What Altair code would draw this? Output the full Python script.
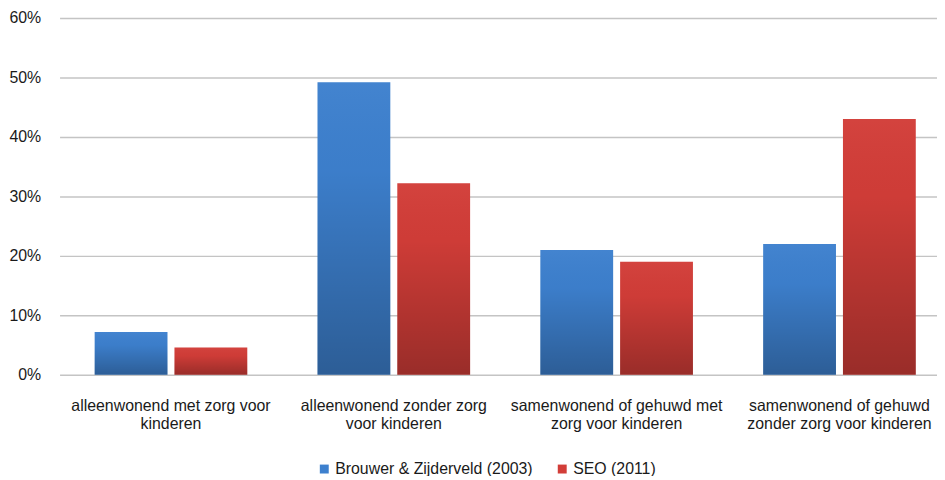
import altair as alt
import pandas as pd

categories = [
    "alleenwonend met zorg voor|kinderen",
    "alleenwonend zonder zorg|voor kinderen",
    "samenwonend of gehuwd met|zorg voor kinderen",
    "samenwonend of gehuwd|zonder zorg voor kinderen",
]
series = ["Brouwer & Zijderveld (2003)", "SEO (2011)"]
brouwer_2003 = [0.072, 0.492, 0.210, 0.220]
seo_2011 = [0.046, 0.322, 0.190, 0.430]
y_ticks = [0, 0.1, 0.2, 0.3, 0.4, 0.5, 0.6]
colors = ["#3d80ce", "#d23d38"]

rows = []
for c, a, b in zip(categories, brouwer_2003, seo_2011):
    rows.append({"cat": c, "series": series[0], "value": a})
    rows.append({"cat": c, "series": series[1], "value": b})
df = pd.DataFrame(rows)

FONT = "Liberation Sans"
W, H = 899, 360

x_enc = alt.X(
    "cat:N",
    sort=categories,
    scale=alt.Scale(paddingInner=0, paddingOuter=0),
    axis=alt.Axis(
        title=None,
        labelAngle=0,
        labelExpr="split(datum.label, '|')",
        labelLineHeight=18,
        labelPadding=23,
        labelLimit=400,
        domain=False,
        ticks=False,
        grid=False,
        labelFontSize=16,
        labelFont=FONT,
        labelColor="#1a1a1a",
    ),
)
xo_enc = alt.XOffset(
    "series:N",
    sort=series,
    scale=alt.Scale(paddingInner=0.0875, paddingOuter=0.44),
)
y_scale = alt.Scale(domain=[0, 0.6], nice=False)
y_enc = alt.Y(
    "value:Q",
    scale=y_scale,
    axis=alt.Axis(
        title=None,
        values=y_ticks,
        format=".0%",
        domain=False,
        ticks=False,
        labelPadding=19,
        labelFontSize=16,
        labelFont=FONT,
        labelColor="#1a1a1a",
        gridColor="#c4c4c4",
        gridWidth=1.5,
    ),
)

base_bars = alt.Chart(df).mark_bar().encode(
    x=x_enc,
    xOffset=xo_enc,
    y=y_enc,
    color=alt.Color(
        "series:N",
        sort=series,
        scale=alt.Scale(domain=series, range=colors),
        legend=alt.Legend(
            title=None,
            orient="none",
            direction="horizontal",
            legendX=259,
            legendY=447,
            symbolType="square",
            symbolSize=81,
            symbolStrokeWidth=0,
            labelFontSize=16,
            labelFont=FONT,
            labelColor="#1a1a1a",
            labelOffset=3,
            labelLimit=400,
            columnPadding=21,
        ),
    ),
)

shade = alt.Chart(df).mark_bar(
    fill=alt.Gradient(
        gradient="linear",
        x1=0, x2=0, y1=0, y2=1,
        stops=[
            alt.GradientStop(color="rgba(255,255,255,0.03)", offset=0),
            alt.GradientStop(color="rgba(0,0,0,0.02)", offset=0.3),
            alt.GradientStop(color="rgba(0,0,0,0.27)", offset=1),
        ],
    )
).encode(x=x_enc, xOffset=xo_enc, y=y_enc)

chart = alt.layer(base_bars, shade).properties(
    width=W,
    height=H,
    padding={"left": 52, "top": 8, "right": -14, "bottom": 100},
    autosize=alt.AutoSizeParams(type="none"),
    view=alt.ViewBackground(strokeOpacity=0, strokeWidth=0),
).configure_view(
    strokeWidth=0, strokeOpacity=0
).configure_axis(
    domain=False, domainOpacity=0
).configure_axisX(
    grid=False
).configure(background="white")

chart.save("out.html", embed_options={"renderer": "svg", "actions": False})
